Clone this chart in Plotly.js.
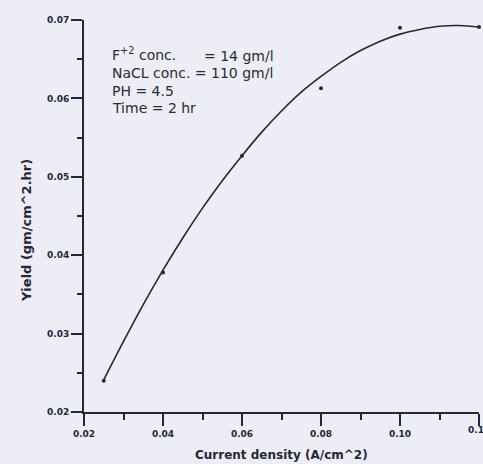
<!DOCTYPE html>
<html>
<head>
<meta charset="utf-8">
<script src="https://cdn.plot.ly/plotly-3.0.1.min.js"></script>
<style>html,body{margin:0;padding:0;background:#edeef5;overflow:hidden;}#chart{width:483px;height:464px;}</style>
</head>
<body>
<div id="chart"></div>
<script>
// measured points
const pointX = [0.025, 0.04, 0.06, 0.08, 0.10, 0.12];
const pointY = [0.0240, 0.0378, 0.0527, 0.0613, 0.0690, 0.0691];
// fitted curve
const curveX = [0.025,0.03,0.035,0.04,0.045,0.05,0.055,0.06,0.065,0.07,0.075,0.08,0.085,0.09,0.095,0.10,0.105,0.11,0.115,0.12];
const curveY = [0.0241,0.0290,0.0337,0.0381,0.0422,0.0460,0.0495,0.0527,0.0557,0.0584,0.0608,0.0628,0.0646,0.0661,0.0673,0.0682,0.0688,0.0692,0.0693,0.0691];
const xTickExtra = "0.12";
const xTitle = "Current density (A/cm^2)";
const yTitle = "Yield (gm/cm^2.hr)";
const infoLines = ["F<sup>+2</sup> conc.", "= 14 gm/l", "NaCL conc. = 110 gm/l", "PH = 4.5", "Time = 2 hr"];

const ink = "#26263a";
const tickFont = {family: "DejaVu Sans", size: 9, color: ink, weight: "bold"};
const infoFont = {family: "DejaVu Sans", size: 14, color: "#2a2a35"};

const traces = [
  {x: curveX, y: curveY, mode: "lines", line: {color: ink, width: 1.6, shape: "spline", smoothing: 1}, hoverinfo: "skip"},
  {x: pointX, y: pointY, mode: "markers", marker: {color: ink, size: 4}, cliponaxis: false}
];

function ann(text, x, y, opts) {
  return Object.assign({text: text, xref: "paper", yref: "paper", x: x, y: y, xanchor: "left", yanchor: "middle", showarrow: false, font: infoFont}, opts || {});
}

const layout = {
  width: 483, height: 464,
  margin: {l: 84, r: 4, t: 20, b: 52},
  paper_bgcolor: "#edeef5", plot_bgcolor: "#edeef5",
  showlegend: false,
  xaxis: {
    range: [0.02, 0.12], tick0: 0.02, dtick: 0.02, tickformat: ".2f",
    showgrid: false, zeroline: false, showline: true, linecolor: ink, linewidth: 2,
    ticks: "outside", ticklen: 12, tickwidth: 2, tickcolor: ink,
    minor: {dtick: 0.01, ticks: "outside", ticklen: 6, tickwidth: 2, tickcolor: ink, showgrid: false},
    tickfont: tickFont, fixedrange: true
  },
  yaxis: {
    range: [0.02, 0.07], tick0: 0.02, dtick: 0.01, tickformat: ".2f",
    showgrid: false, zeroline: false, showline: true, linecolor: ink, linewidth: 2,
    ticks: "outside", ticklen: 11, tickwidth: 2, tickcolor: ink,
    minor: {dtick: 0.005, ticks: "outside", ticklen: 5, tickwidth: 2, tickcolor: ink, showgrid: false},
    tickfont: tickFont, fixedrange: true
  },
  annotations: [
    ann(infoLines[0], 0.0658, 0.912),
    ann(infoLines[1], 0.2987, 0.908),
    ann(infoLines[2], 0.0658, 0.865),
    ann(infoLines[3], 0.0658, 0.819),
    ann(infoLines[4], 0.0658, 0.776),
    {text: xTickExtra, xref: "paper", yref: "paper", x: 1.0, y: -0.046, xanchor: "center", yanchor: "middle", showarrow: false, font: tickFont},
    {text: xTitle, xref: "paper", yref: "paper", x: 0.5, y: -0.11, xanchor: "center", yanchor: "middle", showarrow: false,
     font: {family: "DejaVu Sans", size: 12, color: ink, weight: "bold"}},
    {text: yTitle, xref: "paper", yref: "paper", x: -0.147, y: 0.464, xanchor: "center", yanchor: "middle", showarrow: false, textangle: -90,
     font: {family: "DejaVu Sans", size: 13, color: ink, weight: "bold"}}
  ]
};

Plotly.newPlot("chart", traces, layout, {displayModeBar: false, staticPlot: true});
</script>
</body>
</html>
